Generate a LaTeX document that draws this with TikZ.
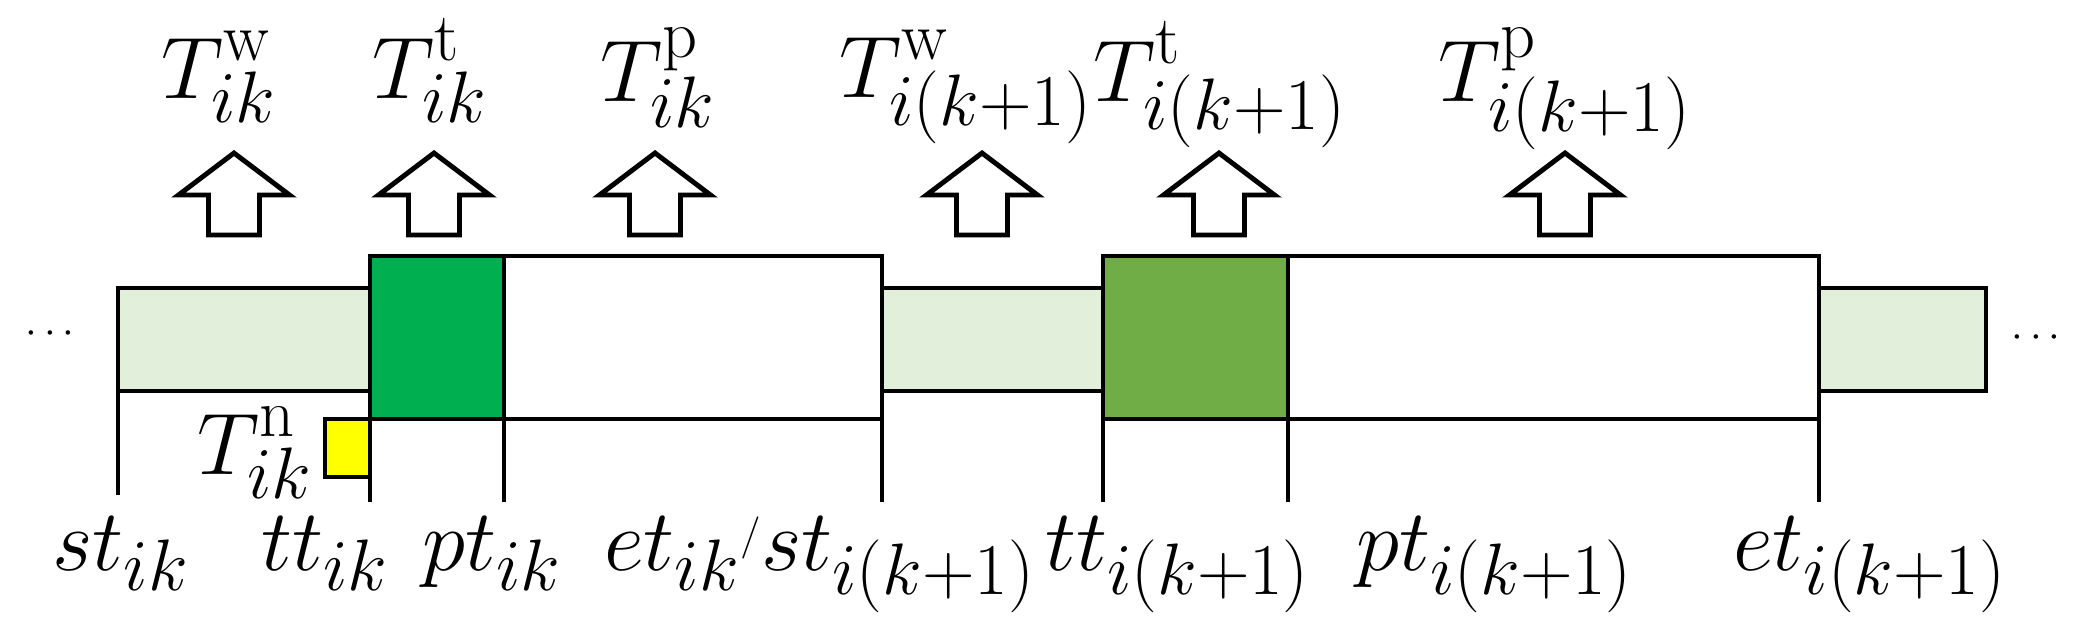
\documentclass[tikz,border=0pt]{standalone}
\definecolor{lgreen}{HTML}{E2EFDA}
\definecolor{dgreenA}{HTML}{00B050}
\definecolor{dgreenB}{HTML}{70AD47}
\definecolor{yel}{HTML}{FFFF00}
\newcommand{\suptxt}[1]{\mbox{\raisebox{1.5pt}{\fontsize{19.5}{19.5}\selectfont #1}}}
\newcommand{\smallslash}{\mbox{\raisebox{6pt}{\fontsize{12}{12}\selectfont /}}}
\begin{document}
\begin{tikzpicture}[x=0.01cm,y=-0.01cm,line width=1.4pt,
  lbl/.style={anchor=base,inner sep=0pt,font=\Huge},
  dotlbl/.style={anchor=center,inner sep=0pt,font=\large},
  waitbox/.style={draw=black,fill=lgreen},
  tbox/.style={draw=black},
  tick/.style={draw=black},
  uparr/.pic={\draw[fill=white] (0,-82) -- (55.5,-40) -- (25.5,-40) -- (25.5,0) -- (-25.5,0) -- (-25.5,-40) -- (-55.5,-40) -- cycle;}]
\useasboundingbox (0,0) rectangle (2091,635);
% waiting boxes
\path[waitbox] (118,288) rectangle (370,391);
\path[waitbox] (882,288) rectangle (1103,391);
\path[waitbox] (1819,288) rectangle (1986,391);
% yellow
\path[tbox,fill=yel] (325,419) rectangle (370,477);
% transport and processing boxes
\path[tbox,fill=dgreenA] (370,256) rectangle (504,419);
\path[tbox,fill=white] (504,256) rectangle (882,419);
\path[tbox,fill=dgreenB] (1103,256) rectangle (1288,419);
\path[tbox,fill=white] (1288,256) rectangle (1819,419);
% ticks
\coordinate (a0) at (118,391); \coordinate (b0) at (118,495);
\coordinate (a1) at (370,419); \coordinate (b1) at (370,502);
\coordinate (a2) at (504,419); \coordinate (b2) at (504,502);
\coordinate (a3) at (882,419); \coordinate (b3) at (882,502);
\coordinate (a4) at (1103,391); \coordinate (b4) at (1103,502);
\coordinate (a5) at (1288,419); \coordinate (b5) at (1288,502);
\coordinate (a6) at (1819,419); \coordinate (b6) at (1819,502);
\foreach \i in {0,...,6} {\draw[tick] (a\i) -- (b\i);}
% arrows
\pic at (234,235) {uparr};
\pic at (434,235) {uparr};
\pic at (655,235) {uparr};
\pic at (982,235) {uparr};
\pic at (1219,235) {uparr};
\pic at (1565,235) {uparr};
% top labels
\node[lbl] (Tw1) at (219,98) {$T_{ik}^{\suptxt{w}}$};
\node[lbl] (Tt1) at (430,98) {$T_{ik}^{\suptxt{t}}$};
\node[lbl] (Tp1) at (658,101) {$T_{ik}^{\suptxt{p}}$};
\node[lbl] (Tw2) at (966,97) {$T_{i(k+1)}^{\suptxt{w}}$};
\node[lbl] (Tt2) at (1220,101) {$T_{i(k+1)}^{\suptxt{t}}$};
\node[lbl] (Tp2) at (1565,101) {$T_{i(k+1)}^{\suptxt{p}}$};
\node[lbl] (Tn1) at (255,474) {$T_{ik}^{\suptxt{n}}$};
% bottom labels
\node[lbl] (st1) at (121,570) {$st_{ik}$};
\node[lbl] (tt1) at (325,570) {$tt_{ik}$};
\node[lbl] (pt1) at (492,570) {$pt_{ik}$};
\node[lbl] (et1) at (820,570) {$et_{ik}\smallslash st_{i(k+1)}$};
\node[lbl] (tt2) at (1178,570) {$tt_{i(k+1)}$};
\node[lbl] (pt2) at (1495,570) {$pt_{i(k+1)}$};
\node[lbl] (et2) at (1870,570) {$et_{i(k+1)}$};
% dots
\node[dotlbl] (d1) at (50,334) {$\cdots$};
\node[dotlbl] (d2) at (2036,338) {$\cdots$};
\end{tikzpicture}
\end{document}
